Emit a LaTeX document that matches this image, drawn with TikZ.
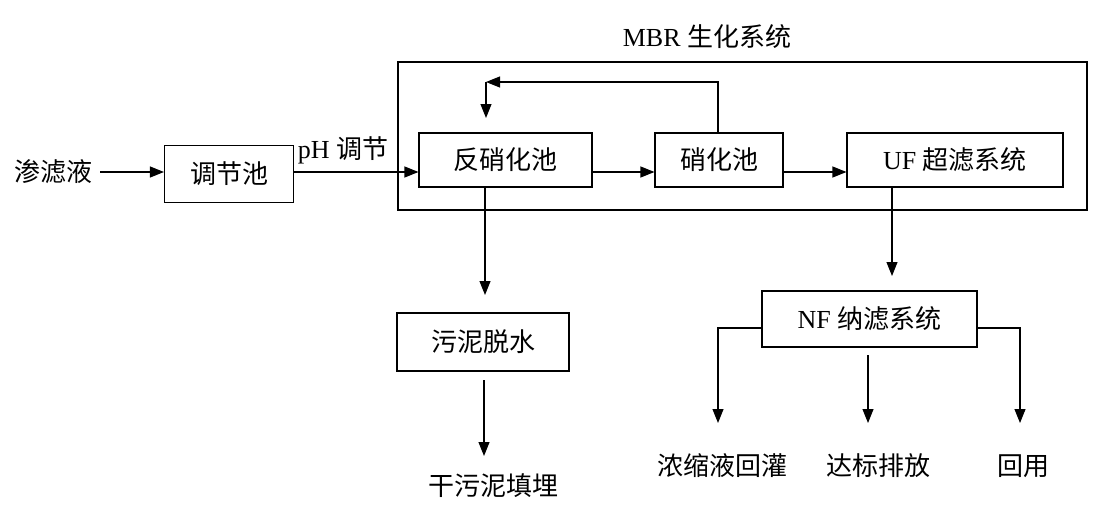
\documentclass[tikz,border=0pt]{standalone}
\usepackage{fontspec}
\setmainfont{Liberation Serif}
\newfontfamily\cjk{Noto Sans CJK SC}
\usetikzlibrary{arrows.meta}
\begin{document}
\begin{tikzpicture}[x=1pt,y=-1pt,
  every node/.style={inner sep=0pt, font=\fontsize{26}{30}\selectfont},
  boxst/.style={draw, line width=1.1pt},
  flow/.style={line width=1.1pt, -{Triangle[length=14pt,width=11pt]}},
  plain/.style={line width=1.1pt}]
\useasboundingbox (0,0) rectangle (1117,506);
% outer MBR frame
\draw[plain] (398,62) rectangle (1087,210);
\node (mbr) at (707,37) {MBR {\cjk 生化系统}};
% input
\node (in) at (53,172) {\cjk 渗滤液};
\node[boxst, minimum width=129pt, minimum height=57pt] (tj) at (229,174) {\cjk 调节池};
\coordinate (inE) at (100,172);
\draw[flow] (inE) -- (tj.west |- inE);
% boxes in MBR
\node[boxst, minimum width=173pt, minimum height=54pt] (fx) at (505.5,160) {\cjk 反硝化池};
\node[boxst, minimum width=128pt, minimum height=54pt] (xh) at (719,160) {\cjk 硝化池};
\node[boxst, minimum width=216pt, minimum height=54pt] (uf) at (955,160) {UF {\cjk 超滤系统}};
\coordinate (tjo) at (293,172);
\draw[flow] (tjo) -- (fx.west |- tjo);
\node (ph) at (343,150) {pH {\cjk 调节}};
\draw[flow] (fx.east |- tjo) -- (xh.west |- tjo);
\draw[flow] (xh.east |- tjo) -- (uf.west |- tjo);
% recycle
\coordinate (r1) at (718,82);
\coordinate (r2) at (486,82);
\coordinate (r3) at (486,118);
\draw[flow] (xh.north -| r1) -- (r1) -- (r2);
\draw[flow] (r2) -- (r3);
% sludge
\node[boxst, minimum width=172pt, minimum height=58pt] (wn) at (483,342) {\cjk 污泥脱水};
\node (gw) at (493,486) {\cjk 干污泥填埋};
\coordinate (s1) at (485,187);
\coordinate (s2) at (485,295);
\coordinate (s3) at (484,380);
\coordinate (s4) at (484,456);
\draw[flow] (s1) -- (s2);
\draw[flow] (s3) -- (s4);
% NF
\node[boxst, minimum width=215pt, minimum height=56pt] (nf) at (869.5,319) {NF {\cjk 纳滤系统}};
\coordinate (u1) at (892,187);
\coordinate (u2) at (892,276);
\draw[flow] (u1) -- (u2);
\node (o1) at (722,466) {\cjk 浓缩液回灌};
\node (o2) at (878,466) {\cjk 达标排放};
\node (o3) at (1023,466) {\cjk 回用};
\coordinate (b1) at (718,328);
\coordinate (b2) at (1020,328);
\coordinate (m1) at (868,355);
\draw[flow] (nf.west |- b1) -- (b1) -- (718,423);
\draw[flow] (m1) -- (868,423);
\draw[flow] (nf.east |- b2) -- (b2) -- (1020,423);
\end{tikzpicture}
\end{document}
